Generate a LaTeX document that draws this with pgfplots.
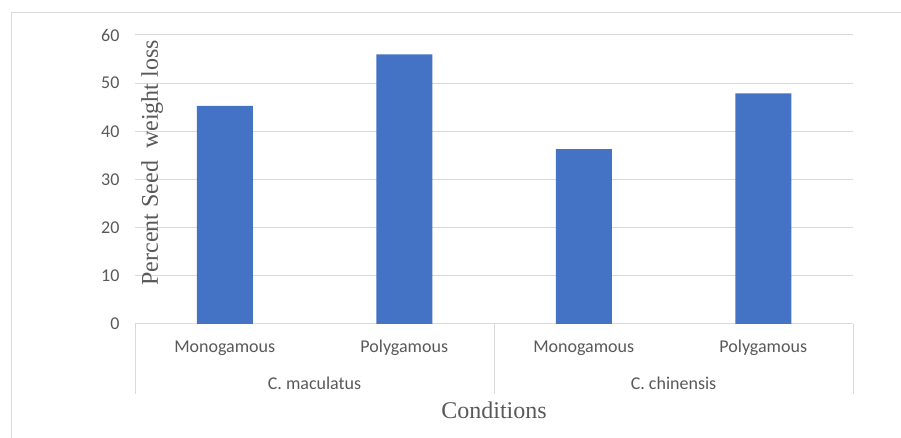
\documentclass[border=0pt]{standalone}
\usepackage{fontspec}
\setmainfont{Carlito}
\newfontfamily\seriffont{Liberation Serif}
\usepackage{pgfplots}
\pgfplotsset{compat=1.18}
\definecolor{barblue}{HTML}{4472C4}
\definecolor{gridgray}{HTML}{D9D9D9}
\definecolor{txtgray}{HTML}{595959}
\begin{document}
\begin{tikzpicture}[x=1pt,y=1pt]
\path[use as bounding box] (0,0) rectangle (901,438);
\draw[gridgray, line width=1pt] (11,-5) -- (11,425) -- (906,425);
\begin{axis}[at={(135pt,114pt)}, anchor=south west, scale only axis,
  width=718pt, height=289pt,
  xmin=-0.5, xmax=3.5, ymin=0, ymax=60,
  ytick={0,10,...,60}, xtick={0,1,2,3},
  xticklabels={Monogamous,Polygamous,Monogamous,Polygamous},
  ybar, bar width=56pt, clip=false,
  axis x line=bottom, axis y line=left,
  y axis line style={draw=none},
  x axis line style={-, draw=gridgray, line width=1pt},
  major tick length=0, ymajorgrids,
  grid style={gridgray, line width=1pt},
  tick label style={font=\fontsize{18}{20}\selectfont, text=txtgray},
  /pgf/number format/assume math mode=true,
  yticklabel style={anchor=east, xshift=-12pt},
  xticklabel style={anchor=center, yshift=-24pt},
  xlabel={Conditions},
  xlabel style={at={(axis description cs:0.5,0)}, anchor=center, yshift=-86pt,
    font=\seriffont\fontsize{24}{26}\selectfont, text=txtgray},
  ylabel={Percent Seed\ \ weight loss},
  ylabel style={at={(axis description cs:0.024,0.558)}, anchor=center,
    font=\seriffont\fontsize{24}{26}\selectfont, text=txtgray},
]
\addplot[fill=barblue, draw=none] coordinates {(0,45.3) (1,56.0) (2,36.3) (3,47.9)};
\draw[gridgray, line width=1pt] (axis cs:-0.5,0) -- ++(0pt,-70pt);
\draw[gridgray, line width=1pt] (axis cs:1.5,0) -- ++(0pt,-70pt);
\draw[gridgray, line width=1pt] (axis cs:3.5,0) -- ++(0pt,-70pt);
\node[font=\fontsize{18}{20}\selectfont, text=txtgray] at ([yshift=-59pt]axis cs:0.5,0) {C. maculatus};
\node[font=\fontsize{18}{20}\selectfont, text=txtgray] at ([yshift=-59pt]axis cs:2.5,0) {C. chinensis};
\end{axis}
\end{tikzpicture}
\end{document}
